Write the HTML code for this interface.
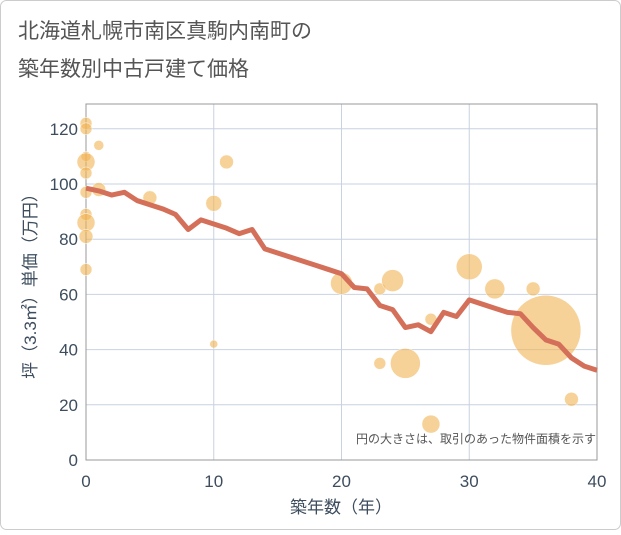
<!DOCTYPE html>
<html><head><meta charset="utf-8"><style>
body{margin:0;background:#fff;font-family:"Liberation Sans","Noto Sans CJK JP",sans-serif;}
</style></head><body>
<svg width="621" height="530" xmlns="http://www.w3.org/2000/svg" font-family="Liberation Sans, Noto Sans CJK JP, sans-serif">
<rect x="0.5" y="0.5" width="620" height="529" rx="6" fill="#fff" stroke="#ccc"/>
<text x="18" y="38" font-size="21" fill="#555">北海道札幌市南区真駒内南町の</text>
<text x="18" y="76" font-size="21" fill="#555">築年数別中古戸建て価格</text>
<g id="grid"></g>
<rect x="86" y="104" width="511" height="356" fill="none" stroke="#999"/>
<g id="bubbles"></g>
<g id="line"></g>
<g id="ticks"></g>
<text x="596" y="443" font-size="12" fill="#555" text-anchor="end">円の大きさは、取引のあった物件面積を示す</text>
<text x="341" y="513" font-size="17" fill="#3d4d5e" text-anchor="middle">築年数（年）</text>
<text transform="translate(36,282) rotate(-90)" font-size="17" fill="#3d4d5e" text-anchor="middle">坪（3.3㎡）単価（万円）</text>
</svg>
<script>
const xTicks=[0,10,20,30,40];
const yTicks=[0,20,40,60,80,100,120];
const lineX=[0,1,2,3,4,5,6,7,8,9,10,11,12,13,14,15,16,17,18,19,20,21,22,23,24,25,26,27,28,29,30,31,32,33,34,35,36,37,38,39,40];
const lineY=[98.5,97.5,96,97,94,92.5,91,89,83.5,87,85.5,84,82,83.5,76.5,75,73.5,72,70.5,69,67.5,62.5,62,56,54.5,48,49,46.5,53.5,52,58,56.5,55,53.5,53,48,43.5,42,37,34,32.5];
const bubX=[0,0,0,0,0,0,0,0,0,0,1,1,5,10,10,11,20,23,23,24,25,27,27,30,32,35,36,38];
const bubY=[122,120,110,108,104,97,89,86,81,69,114,98,95,93,42,108,64,62,35,65,35,51,13,70,62,62,47,22];
const bubSize=[36,36,25,81,36,36,36,81,49,36,25,49,49,64,16,49,121,36,36,121,225,36,81,169,100,49,1225,49];
const NS='http://www.w3.org/2000/svg';
const X=v=>86+v*(511/40), Y=v=>460-v*2.76;
function mk(t,a,p){const e=document.createElementNS(NS,t);for(const k in a)e.setAttribute(k,a[k]);p.appendChild(e);return e;}
const g=document.getElementById('grid'),tk=document.getElementById('ticks');
xTicks.forEach(v=>{
 const l=mk('line',{x1:X(v),x2:X(v),y1:104,y2:460,stroke:'#c8d2e0'},g);
 
 
 const t=mk('text',{x:X(v),y:487,'font-size':17,fill:'#3d4d5e','text-anchor':'middle'},tk);t.textContent=v;
 
 
});
yTicks.forEach(v=>{
 const l=mk('line',{x1:86,x2:597,y1:Y(v),y2:Y(v),stroke:'#c8d2e0'},g);
 
 
 const t=mk('text',{x:78,y:Y(v)+6,'font-size':17,fill:'#3d4d5e','text-anchor':'end'},tk);t.textContent=v;
 
 
});
const bg=document.getElementById('bubbles');
bubX.forEach((x,i)=>{
 const c=mk('circle',{cx:X(x),cy:Y(bubY[i]),r:Math.sqrt(bubSize[i]),fill:'#f2b453','fill-opacity':0.6,stroke:'#fff','stroke-width':0.5},bg);
 
 
});
const p=mk('polyline',{points:lineX.map((x,i)=>X(x)+','+Y(lineY[i])).join(' '),fill:'none',stroke:'#d4705a','stroke-width':5,'stroke-linejoin':'round'},document.getElementById('line'));


</script>
</body></html>
